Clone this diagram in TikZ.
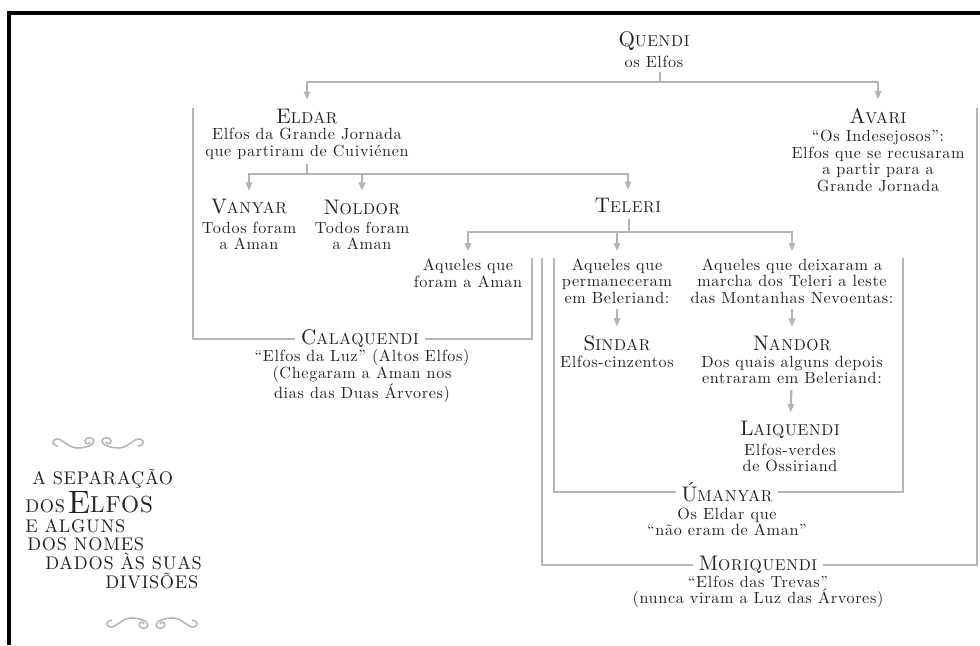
\documentclass[tikz,border=0pt]{standalone}
\usepackage{fontspec}
\setmainfont{lmroman10-regular.otf}
\usetikzlibrary{arrows.meta}

\definecolor{ink}{HTML}{222222}
\definecolor{rule}{HTML}{B4B4BA}
\newcommand{\elfname}[2]{{\fontsize{15}{15}\selectfont #1}{\fontsize{11.2}{12}\selectfont #2}}

\begin{document}
\begin{tikzpicture}[x=0.025cm, y=-0.025cm]
    \tikzstyle{elf}=[inner sep=1pt, text=ink, font=\addfontfeatures{LetterSpace=4}]
    \tikzstyle{note}=[inner sep=0pt, align=center, text=ink, font=\fontsize{11.5}{11.8}\selectfont\addfontfeatures{LetterSpace=4}]
    \tikzstyle{titleline}=[anchor=base west, inner sep=0pt, text=ink, font=\fontsize{13}{13}\selectfont\addfontfeatures{LetterSpace=4}]
    \tikzstyle{branch}=[draw=rule, line width=1.5pt, shorten <=3pt]
    \tikzstyle{drop}=[draw=rule, line width=1.5pt, -{Triangle[width=4.5pt,length=6pt]}, shorten >=5pt]
    \tikzstyle{swirl}=[draw=rule, line width=1.1pt]

    \useasboundingbox (0,0) rectangle (980,645);
    \draw[line width=2.8pt] (9,645) -- (9,13) -- (980,13);

    % names and notes
    \node[elf] (quendi) at (654,41) {\elfname{Q}{UENDI}};
    \node[note] (quendi-txt) at (654,62) {os Elfos};
    \node[elf] (eldar) at (307,116) {\elfname{E}{LDAR}};
    \node[note] (eldar-txt) at (307,144) {Elfos da Grande Jornada\\que partiram de Cuiviénen};
    \node[elf] (avari) at (878,116) {\elfname{A}{VARI}};
    \node[note] (avari-txt) at (878,161) {“Os Indesejosos”:\\Elfos que se recusaram\\a partir para a\\Grande Jornada};
    \node[elf] (vanyar) at (249,207) {\elfname{V}{ANYAR}};
    \node[note] (vanyar-txt) at (249,236) {Todos foram\\a Aman};
    \node[elf] (noldor) at (362,207) {\elfname{N}{OLDOR}};
    \node[note] (noldor-txt) at (362,236) {Todos foram\\a Aman};
    \node[elf] (teleri) at (628,206) {\elfname{T}{ELERI}};
    \node[note] (aman) at (468,273) {Aqueles que\\foram a Aman};
    \node[note] (beleriand) at (617,281) {Aqueles que\\permaneceram\\em Beleriand:};
    \node[note] (nevoentas) at (792,281) {Aqueles que deixaram a\\marcha dos Teleri a leste\\das Montanhas Nevoentas:};
    \node[elf] (sindar) at (617,343) {\elfname{S}{INDAR}};
    \node[note] (sindar-txt) at (617,362) {Elfos-cinzentos};
    \node[elf] (nandor) at (792,343) {\elfname{N}{ANDOR}};
    \node[note] (nandor-txt) at (792,370) {Dos quais alguns depois\\entraram em Beleriand:};
    \node[elf] (laiquendi) at (790,430) {\elfname{L}{AIQUENDI}};
    \node[note] (laiquendi-txt) at (790,458) {Elfos-verdes\\de Ossiriand};
    \node[elf] (cala) at (360,339) {\elfname{C}{ALAQUENDI}};
    \node[note] (cala-txt) at (362,376) {“Elfos da Luz” (Altos Elfos)\\(Chegaram a Aman nos\\dias das Duas Árvores)};
    \node[elf] (umanyar) at (727,492) {\elfname{Ú}{MANYAR}};
    \node[note] (umanyar-txt) at (727,522) {Os Eldar que\\“não eram de Aman”};
    \node[elf] (mori) at (758,565) {\elfname{M}{ORIQUENDI}};
    \node[note] (mori-txt) at (758,592) {“Elfos das Trevas”\\(nunca viram a Luz das Árvores)};

    % title
    \node[titleline] (title1) at (32,484) {A SEPARAÇÃO};
    \node[titleline] (title2) at (25,512) {DOS\,\raisebox{-1pt}{\fontsize{23}{23}\selectfont E}{\fontsize{16.5}{17}\selectfont LFOS}};
    \node[titleline] (title3) at (25,532) {E ALGUNS};
    \node[titleline] (title4) at (27,550) {DOS NOMES};
    \node[titleline] (title5) at (45,569) {DADOS ÀS SUAS};
    \node[titleline] (title6) at (105,588) {DIVISÕES};

    \foreach \cx/\cy/\sx/\sy in {98/444/1/1, 98/444/-1/1, 152/622/1/-1, 152/622/-1/-1} {
        \begin{scope}[shift={(\cx,\cy)}, xscale=\sx, yscale=\sy]
            \path[swirl] (-40,2) .. controls (-46,2) and (-47,-4) .. (-42,-5)
                .. controls (-36,-6) and (-30,4) .. (-21,4)
                .. controls (-12,4) and (-4,1) .. (-4,-3)
                .. controls (-4,-7) and (-12,-8) .. (-13,-3)
                .. controls (-13,0) and (-9,1) .. (-8,-2);
        \end{scope}
    }

    % splits
    \coordinate (quendi-split) at (660,82);
    \coordinate (eldar-split) at (307,174);
    \coordinate (teleri-split) at (629,232);

    \path[branch] (quendi-txt.south -| quendi-split) -- (quendi-split);
    \path[drop] (quendi-split) -| (eldar);
    \path[drop] (quendi-split) -| (avari);
    \path[branch] (eldar-txt.south) -- (eldar-split);
    \path[drop] (eldar-split) -| (vanyar);
    \path[drop] (eldar-split) -| (noldor);
    \path[drop] (eldar-split) -| (teleri);
    \path[branch] (teleri.south -| teleri-split) -- (teleri-split);
    \path[drop] (teleri-split) -| (aman);
    \path[drop] (teleri-split) -| (beleriand);
    \path[drop] (teleri-split) -| (nevoentas);
    \path[drop, shorten <=4pt] (beleriand) -- (sindar);
    \path[drop, shorten <=4pt] (nevoentas) -- (nandor);
    \path[drop, shorten <=4pt] (nandor-txt) -- (laiquendi);

    % brackets
    \coordinate (cala-left) at (193,108);
    \coordinate (cala-right) at (532,258);
    \coordinate (umanyar-left) at (554,258);
    \coordinate (umanyar-right) at (903,258);
    \coordinate (mori-left) at (542,258);
    \coordinate (mori-right) at (977,108);

    \path[branch] (cala.west) -| (cala-left);
    \path[branch] (cala.east) -| (cala-right);
    \path[branch] (umanyar.west) -| (umanyar-left);
    \path[branch] (umanyar.east) -| (umanyar-right);
    \path[branch] (mori.west) -| (mori-left);
    \path[branch] (mori.east) -| (mori-right);
\end{tikzpicture}
\end{document}
